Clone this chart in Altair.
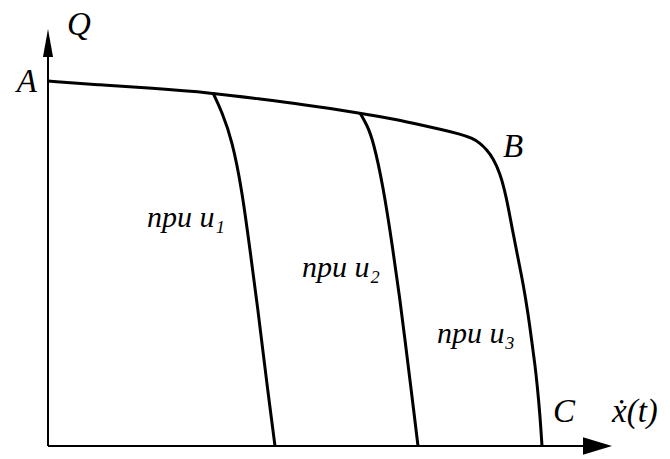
import altair as alt
import pandas as pd

# Operating characteristic Q(ẋ): common envelope A-B-C and branches for u1, u2
main_x = [0, 52, 102, 165, 212, 252, 312, 352, 372, 392, 412, 424, 432, 439, 445,
          452, 458, 465, 470, 475, 480, 484, 487, 489, 492, 494]
main_y = [365, 361, 358, 353, 347, 342, 333, 326, 321, 317, 312, 308, 303, 296, 288,
          273, 251, 213, 188, 163, 133, 103, 81, 63, 31, 0]

u1_x = [165, 174, 184, 194, 202, 210, 216, 221, 227]
u1_y = [353, 334, 306, 256, 196, 136, 86, 46, 0]

u2_x = [312, 319, 325, 335, 345, 352, 357, 362, 370]
u2_y = [333, 321, 306, 261, 196, 146, 106, 66, 0]

label_text = ["при u₁", "при u₂", "при u₃"]
label_x = [99, 254, 389]
label_y = [219, 169, 103]

point_text = ["A", "Q", "B", "C", "x\u0307(t)"]
point_x = [-11, 19, 455, 505, 564]
point_y = [354, 411, 289, 24, 24]
point_align = ["right", "left", "left", "left", "left"]

X_MAX, Y_MAX = 562, 416

xs = alt.Scale(domain=[0, X_MAX], nice=False, zero=False)
ys = alt.Scale(domain=[0, Y_MAX], nice=False, zero=False)

curves = pd.DataFrame(
    [{"x": x, "y": y, "curve": "main", "i": i} for i, (x, y) in enumerate(zip(main_x, main_y))]
    + [{"x": x, "y": y, "curve": "u1", "i": i} for i, (x, y) in enumerate(zip(u1_x, u1_y))]
    + [{"x": x, "y": y, "curve": "u2", "i": i} for i, (x, y) in enumerate(zip(u2_x, u2_y))]
)

lines = alt.Chart(curves).mark_line(
    color="black", strokeWidth=3, interpolate="basis", clip=False
).encode(
    x=alt.X("x:Q", scale=xs, axis=None),
    y=alt.Y("y:Q", scale=ys, axis=None),
    detail="curve:N",
    order="i:Q",
)

# coordinate axes with arrowheads
axes_df = pd.DataFrame({
    "x": [0, 0], "y": [0, 0], "x2": [0, 545], "y2": [392, 0]
})
axes = alt.Chart(axes_df).mark_rule(color="black", strokeWidth=2).encode(
    x=alt.X("x:Q", scale=xs, axis=None),
    y=alt.Y("y:Q", scale=ys, axis=None),
    x2="x2:Q",
    y2="y2:Q",
)

arrow_up = alt.Chart(pd.DataFrame({"x": [0], "y": [403]})).mark_point(
    shape="M0,-1L0.36,1L-0.36,1Z", size=784, filled=True, color="black", opacity=1
).encode(x=alt.X("x:Q", scale=xs, axis=None), y=alt.Y("y:Q", scale=ys, axis=None))

arrow_right = alt.Chart(pd.DataFrame({"x": [549.5], "y": [0]})).mark_point(
    shape="M1,0L-1,-0.6L-1,0.6Z", size=841, filled=True, color="black", opacity=1
).encode(x=alt.X("x:Q", scale=xs, axis=None), y=alt.Y("y:Q", scale=ys, axis=None))

labels_df = pd.DataFrame({"t": label_text, "x": label_x, "y": label_y})
labels = alt.Chart(labels_df).mark_text(
    font="Liberation Serif", fontStyle="italic", fontSize=30, align="left",
    baseline="alphabetic", color="black"
).encode(
    x=alt.X("x:Q", scale=xs, axis=None),
    y=alt.Y("y:Q", scale=ys, axis=None),
    text="t:N",
)

pts_df = pd.DataFrame({"t": point_text, "x": point_x, "y": point_y, "a": point_align})
layers = []
for al in ["left", "right"]:
    layers.append(
        alt.Chart(pts_df[pts_df["a"] == al]).mark_text(
            font="Liberation Serif", fontStyle="italic", fontSize=33, align=al,
            baseline="alphabetic", color="black"
        ).encode(
            x=alt.X("x:Q", scale=xs, axis=None),
            y=alt.Y("y:Q", scale=ys, axis=None),
            text="t:N",
        )
    )

chart = alt.layer(axes, arrow_up, arrow_right, lines, labels, *layers).properties(
    width=X_MAX,
    height=Y_MAX,
    autosize=alt.AutoSizeParams(type="none"),
    padding={"left": 48, "top": 30, "right": 60, "bottom": 13},
    background="white",
).configure_view(stroke=None)

chart.save("out.html", embed_options={"renderer": "svg", "actions": False})
